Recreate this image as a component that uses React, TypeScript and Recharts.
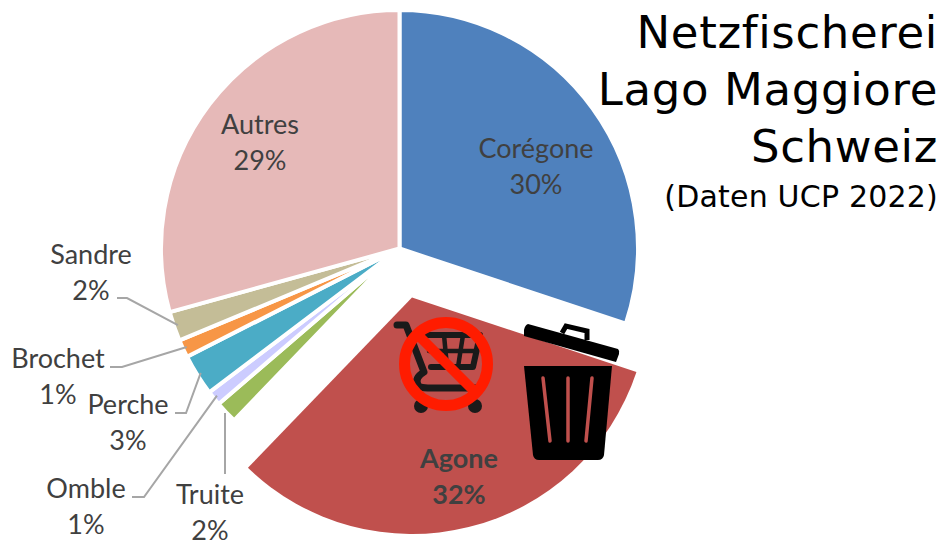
import { PieChart, Pie, Cell } from 'recharts';

const categories = ['Corégone', 'Agone', 'Truite', 'Omble', 'Perche', 'Brochet', 'Sandre', 'Autres'];
const shares = [30.1, 32.1, 1.5, 1.0, 2.8, 1.2, 2.0, 29.3];
const colors = ['#4f81bd', '#c0504d', '#9bbb59', '#ccccff', '#4bacc6', '#f79646', '#c4bd97', '#e6b9b8'];
const titleLines = ['Netzfischerei', 'Lago Maggiore', 'Schweiz'];
const subtitle = '(Daten UCP 2022)';

const data = categories.map((name, i) => ({ name, value: shares[i] }));

const CX = 399.5;
const CY = 248.5;
const RADIUS = 238.5;
// Agone is pulled out of the pie
const EXPLODED = 'Agone';
const EXPLODE_DX = 12.5;
const EXPLODE_DY = 49;

const FONT = 'Lato, sans-serif';
const TEXT = '#404040';

// label centre and the leader line's elbow points, the last one runs to the slice
const labelLayout: Record<string, { x: number; y: number; leader?: number[][]; straight?: boolean }> = {
  'Corégone': { x: 536, y: 158 },
  Agone: { x: 459, y: 468 },
  Truite: { x: 210, y: 504, leader: [[225, 474], [225, 413]], straight: true },
  Omble: { x: 86, y: 498, leader: [[132, 497], [144, 497]] },
  Perche: { x: 128, y: 414, leader: [[175, 413], [186, 413]] },
  Brochet: { x: 58, y: 368, leader: [[110, 367], [122, 367]] },
  Sandre: { x: 91, y: 264, leader: [[117, 298], [127, 298]] },
  Autres: { x: 260, y: 134 },
};

function SliceLabel(props: any) {
  const { name, percent, midAngle } = props;
  const layout = labelLayout[name];
  if (!layout) return null;
  const rad = (midAngle * Math.PI) / 180;
  const tip = [CX + (RADIUS - 4) * Math.cos(rad), CY - (RADIUS - 4) * Math.sin(rad)];
  const points = layout.leader ? (layout.straight ? layout.leader : [...layout.leader, tip]) : null;
  return (
    <g>
      {points && (
        <polyline points={points.map(p => p.join(',')).join(' ')} fill="none" stroke="#a6a6a6" strokeWidth={2} />
      )}
      <text
        x={layout.x}
        y={layout.y}
        textAnchor="middle"
        fontFamily={FONT}
        fontSize={27}
        fontWeight={name === EXPLODED ? 700 : 400}
        fill={TEXT}
      >
        <tspan x={layout.x}>{name}</tspan>
        <tspan x={layout.x} dy={36}>{`${Math.round(percent * 100)}%`}</tspan>
      </text>
    </g>
  );
}

function NoShopping() {
  return (
    <g>
      <g fill="none" stroke="#1a1a1a" strokeWidth={7} strokeLinecap="round" strokeLinejoin="round">
        <path d="M397 325 H406 L424 372 Q414 378 418 385 Q420 388 428 388 H478" />
        <path d="M426 335 H480 L473 367 H431" strokeWidth={6} />
        <path d="M444 335 L447 367 M463 335 L458 367 M429 351 H477" strokeWidth={4.5} />
      </g>
      <circle cx={421} cy={406} r={7} fill="#1a1a1a" />
      <circle cx={475} cy={406} r={7} fill="#1a1a1a" />
      <circle cx={446} cy={364} r={41.5} fill="none" stroke="#ff1c00" strokeWidth={11} />
      <line x1={419} y1={336} x2={475} y2={392} stroke="#ff1c00" strokeWidth={10} />
    </g>
  );
}

function TrashCan() {
  return (
    <g>
      <path d="M528 324 L618 349 Q620 351 619 354 L616 362 L524 336 L524 330 Q525 325 528 324 Z" fill="#000" />
      <path d="M562 333 L566 326 L587 331 L587 340" fill="none" stroke="#000" strokeWidth={5} />
      <path d="M524 366 H612 L604 455 Q603 460 598 460 H539 Q534 460 533 455 Z" fill="#000" />
      <g stroke="#c0504d" strokeWidth={3.5} strokeLinecap="round">
        <line x1={543} y1={378} x2={550} y2={441} />
        <line x1={568} y1={378} x2={568} y2={441} />
        <line x1={592} y1={378} x2={586} y2={441} />
      </g>
    </g>
  );
}

export default function App() {
  return (
    <div style={{ position: 'absolute', left: 0, top: 0, width: 944, height: 541, background: '#fff', overflow: 'hidden' }}>
      <PieChart width={944} height={541} margin={{ top: 0, right: 0, bottom: 0, left: 0 }}>
        <Pie
          data={data}
          dataKey="value"
          nameKey="name"
          cx={CX + EXPLODE_DX}
          cy={CY + EXPLODE_DY}
          innerRadius={0}
          outerRadius={RADIUS - 2}
          startAngle={90}
          endAngle={-270}
          stroke="none"
          isAnimationActive={false}
          labelLine={false}
        >
          {data.map((d, i) => (
            <Cell key={d.name} fill={d.name === EXPLODED ? colors[i] : 'none'} />
          ))}
        </Pie>
        <Pie
          data={data}
          dataKey="value"
          nameKey="name"
          cx={CX}
          cy={CY}
          innerRadius={0}
          outerRadius={RADIUS}
          startAngle={90}
          endAngle={-270}
          stroke="#fff"
          strokeWidth={4}
          isAnimationActive={false}
          labelLine={false}
          label={SliceLabel}
        >
          {data.map((d, i) => (
            <Cell key={d.name} fill={d.name === EXPLODED ? 'none' : colors[i]} stroke={d.name === EXPLODED ? 'none' : '#fff'} />
          ))}
        </Pie>
      </PieChart>
      <svg width={944} height={541} style={{ position: 'absolute', left: 0, top: 0 }}>
        <NoShopping />
        <TrashCan />
        <text textAnchor="end" fontFamily="DejaVu Sans, sans-serif" fill="#000" style={{ fontVariantLigatures: 'none' }}>
          {titleLines.map((line, i) => (
            <tspan key={line} x={938} y={48 + i * 57} fontSize={45} letterSpacing={0.65}>{line}</tspan>
          ))}
          <tspan x={938} y={207} fontSize={30} letterSpacing={0.2}>{subtitle}</tspan>
        </text>
      </svg>
    </div>
  );
}
